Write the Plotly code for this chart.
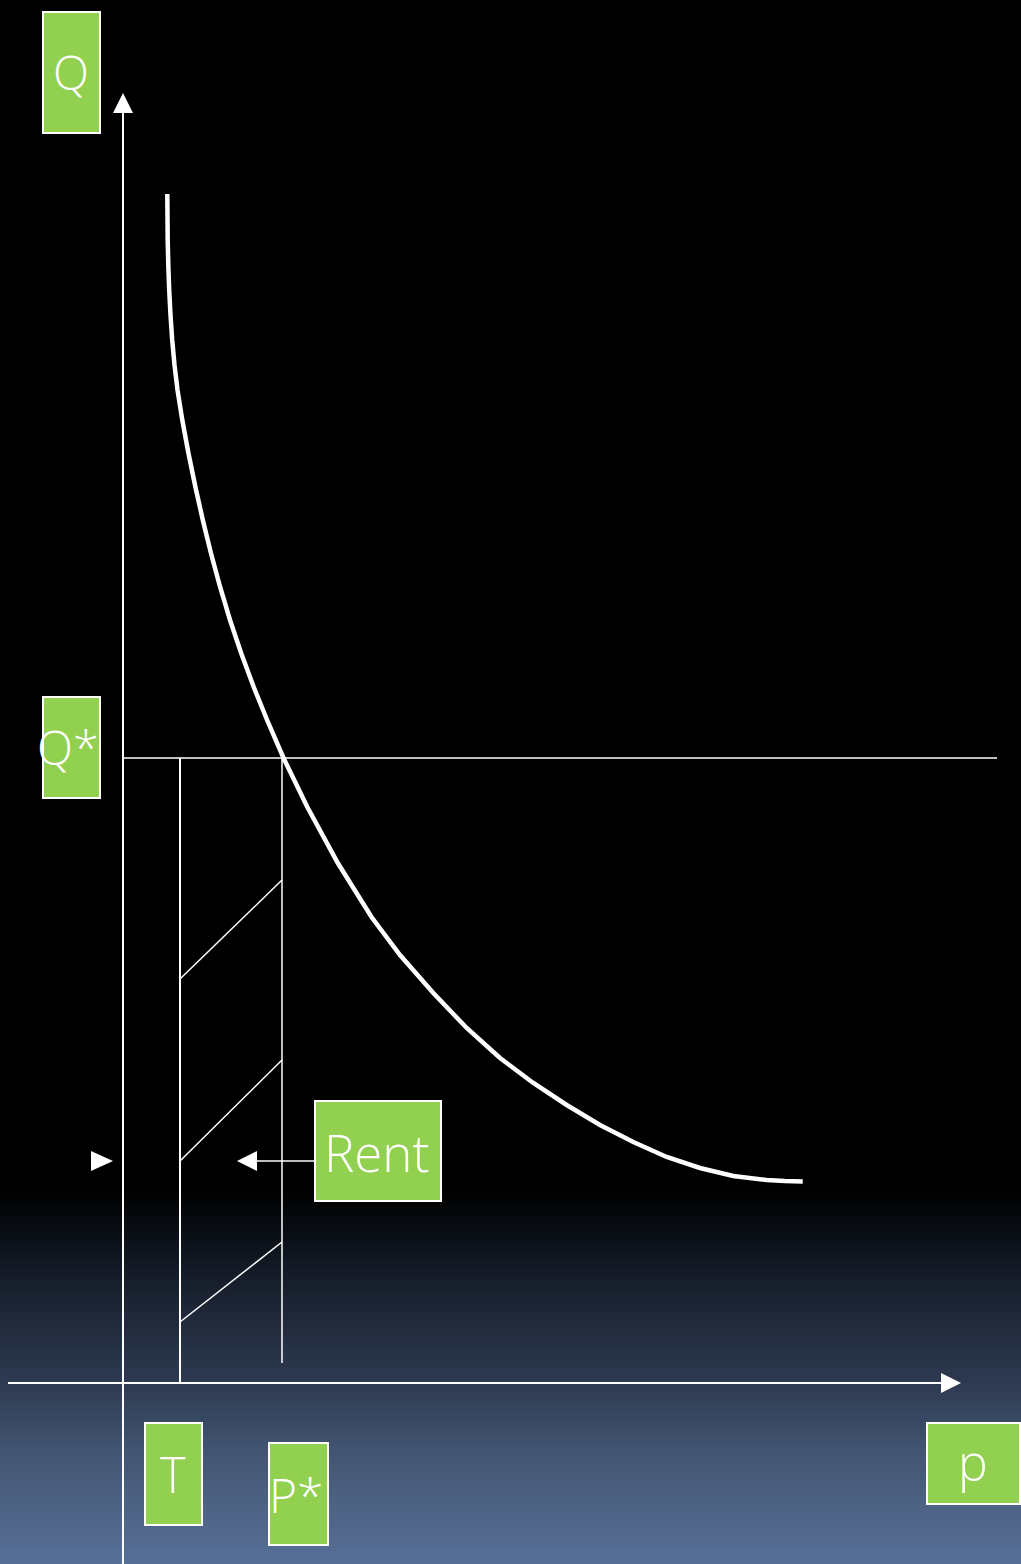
import plotly.graph_objects as go

# ---------------- data (diagram units: p to the right, Q upward, origin at axes crossing)
curve_p = [44.3, 44.7, 45.3, 46.2, 47.5, 49.2, 51.5, 54.5, 59.3, 65.4, 72.4, 79.8, 87.9,
           97.1, 107.0, 118.1, 130.7, 144.1, 160.5, 184.3, 214.8, 248.5, 277.0, 310.3,
           343.7, 377.0, 410.3, 443.7, 477.0, 510.3, 543.7, 577.0, 610.3, 643.7, 662.0,
           679.7]
curve_q = [1189, 1143, 1118, 1093, 1068, 1043, 1018, 993, 963, 930, 896, 863, 830,
           796, 763, 730, 696, 663, 625, 576, 520, 466, 428, 390,
           355, 325, 300, 278, 258, 241, 226, 215, 207, 203, 202,
           201.5]

q_star = 625          # equilibrium quantity level
p_star = 159          # equilibrium price
t_val = 57            # T
p_star_line_low = 20  # where P* line stops above axis
hatch_left_q = [404, 222, 61]
hatch_right_q = [503, 323, 141]
rent_q = 222
q_axis_top = 1290
p_axis_right = 838
q_star_right = 874
p_axis_left = -115

labels = ["Q", "Q*", "Rent", "T", "P*", "p"]

# ---------------- page geometry
W, H = 1021, 1564
OX, OY = 123, 1383  # pixel location of origin


def X(px):
    return px - OX


def Y(py):
    return OY - py


GREEN = "#92d050"
WHITE = "#ffffff"
FONT = "Open Sans"

fig = go.Figure()

shapes = []

# background gradient (black above, blue-grey at bottom)
stops = [(1190, (0, 0, 0)), (1250, (14, 20, 29)), (1300, (28, 36, 51)),
         (1383, (46, 58, 81)), (1450, (66, 84, 112)), (1500, (77, 97, 130)),
         (1564, (87, 111, 152))]


def col_at(py):
    for (y0, c0), (y1, c1) in zip(stops[:-1], stops[1:]):
        if y0 <= py <= y1:
            t = (py - y0) / (y1 - y0)
            return tuple(int(round(a + (b - a) * t)) for a, b in zip(c0, c1))
    return stops[-1][1]


step = 2
py = 1190
while py < H:
    c = col_at(py + step / 2)
    shapes.append(dict(type="rect", xref="x", yref="y", layer="below",
                       x0=X(0), x1=X(W), y0=Y(py), y1=Y(py + step + 0.5),
                       fillcolor="rgb(%d,%d,%d)" % c, line=dict(width=0)))
    py += step

# axes lines
shapes.append(dict(type="line", x0=0, x1=0, y0=Y(H), y1=q_axis_top - 10,
                   line=dict(color=WHITE, width=2)))
shapes.append(dict(type="line", x0=p_axis_left, x1=p_axis_right - 10, y0=0, y1=0,
                   line=dict(color=WHITE, width=2)))
# arrowheads
shapes.append(dict(type="path",
                   path=f"M -10 {q_axis_top - 20} L 0 {q_axis_top} L 10 {q_axis_top - 20} Z",
                   fillcolor=WHITE, line=dict(width=0)))
shapes.append(dict(type="path",
                   path=f"M {p_axis_right - 20} -10 L {p_axis_right} 0 L {p_axis_right - 20} 10 Z",
                   fillcolor=WHITE, line=dict(width=0)))

# Q* horizontal
shapes.append(dict(type="line", x0=0, x1=q_star_right, y0=q_star, y1=q_star,
                   line=dict(color=WHITE, width=1.5)))
# T vertical
shapes.append(dict(type="line", x0=t_val, x1=t_val, y0=0, y1=q_star,
                   line=dict(color=WHITE, width=2)))
# P* vertical
shapes.append(dict(type="line", x0=p_star, x1=p_star, y0=p_star_line_low, y1=q_star,
                   line=dict(color=WHITE, width=1.5)))
# hatching
for ql, qr in zip(hatch_left_q, hatch_right_q):
    shapes.append(dict(type="line", x0=t_val, x1=p_star, y0=ql, y1=qr,
                       line=dict(color=WHITE, width=1.5)))

# Rent pointer arrow
rent_box_left = X(315)
shapes.append(dict(type="line", x0=X(257), x1=rent_box_left, y0=rent_q, y1=rent_q,
                   line=dict(color=WHITE, width=1.5)))
shapes.append(dict(type="path",
                   path=f"M {X(257)} {rent_q + 10} L {X(237)} {rent_q} L {X(257)} {rent_q - 10} Z",
                   fillcolor=WHITE, line=dict(width=0)))
# small right arrowhead near Q axis
shapes.append(dict(type="path",
                   path=f"M {X(91)} {rent_q + 10} L {X(113)} {rent_q} L {X(91)} {rent_q - 10} Z",
                   fillcolor=WHITE, line=dict(width=0)))

# label boxes: (label, x0, x1, y0, y1 in px), text center px, font size
boxes = [
    (labels[0], 43, 100, 12, 133, 71, 72, 47),
    (labels[1], 43, 100, 697, 798, 68, 747, 47),
    (labels[2], 315, 441, 1101, 1201, 377, 1152, 51),
    (labels[3], 145, 202, 1423, 1525, 173, 1474, 49),
    (labels[4], 269, 328, 1443, 1545, 296, 1494, 48),
    (labels[5], 927, 1020, 1423, 1504, 973, 1462, 50),
]
annotations = []
for lab, x0, x1, y0, y1, tx, ty, fs in boxes:
    shapes.append(dict(type="rect", x0=X(x0), x1=X(x1), y0=Y(y0), y1=Y(y1),
                       fillcolor=GREEN, line=dict(color=WHITE, width=2)))
    annotations.append(dict(x=X(tx), y=Y(ty), text=lab, showarrow=False,
                            xanchor="center", yanchor="middle",
                            font=dict(family=FONT, size=fs, color=WHITE, weight=300)))

# demand curve
fig.add_trace(go.Scatter(x=curve_p, y=curve_q, mode="lines",
                         line=dict(color=WHITE, width=4.5, shape="linear", simplify=False),
                         hoverinfo="skip", showlegend=False))

fig.update_layout(
    width=W, height=H,
    margin=dict(l=0, r=0, t=0, b=0),
    paper_bgcolor="#000000", plot_bgcolor="#000000",
    xaxis=dict(range=[X(0), X(W)], visible=False, fixedrange=True),
    yaxis=dict(range=[Y(H), Y(0)], visible=False, fixedrange=True),
    shapes=shapes, annotations=annotations, showlegend=False,
)

fig.write_html("out.html", config={"displayModeBar": False},
               post_script="document.body.style.margin='0';document.body.style.overflow='hidden';")
